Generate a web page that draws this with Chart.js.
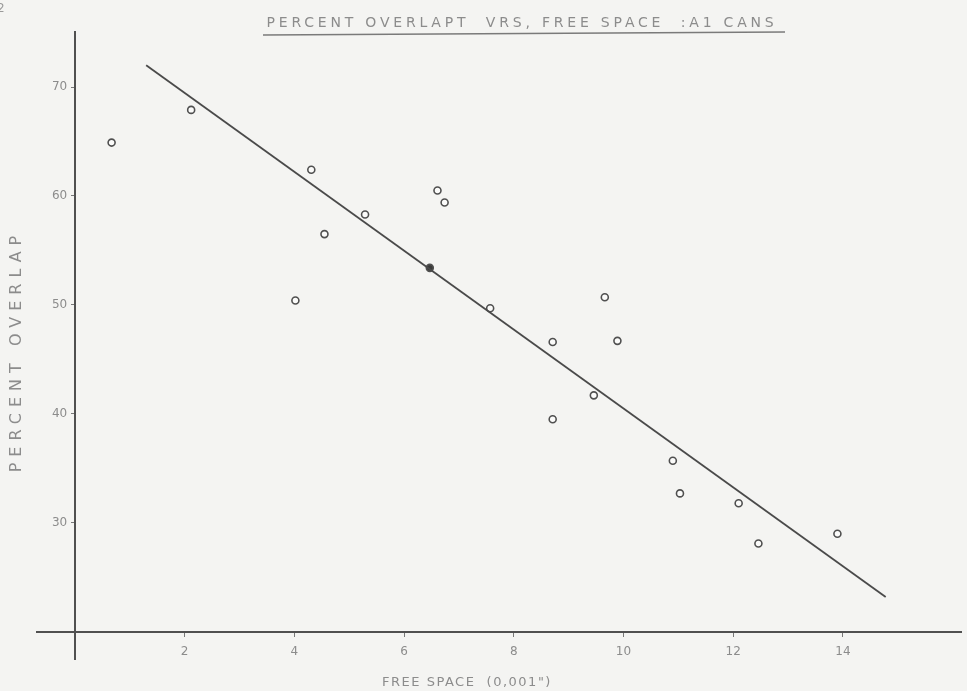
<!DOCTYPE html>
<html>
<head>
<meta charset="utf-8">
<script src="https://cdn.jsdelivr.net/npm/chart.js@4.4.1/dist/chart.umd.min.js"></script>
<style>
  html, body { margin: 0; padding: 0; background: #f4f4f2; }
  #wrap { width: 967px; height: 691px; position: relative; }
</style>
</head>
<body>
<div id="wrap"><canvas id="overlapChart"></canvas></div>
<script>
// measured points (free space in 0.001", percent overlap)
const freeSpace = [0.67, 2.12, 4.31, 4.55, 4.02, 5.29, 6.47, 6.61, 6.74, 7.57, 8.71, 8.71, 9.46, 9.66, 9.89, 10.9, 11.03, 12.1, 12.46, 13.9];
const overlap   = [64.9, 67.9, 62.4, 56.5, 50.4, 58.3, 53.4, 60.5, 59.4, 49.7, 46.6, 39.5, 41.7, 50.7, 46.7, 35.7, 32.7, 31.8, 28.1, 29.0];
const filledIndex = 6; // the one solid dot sitting on the line

// fitted line, end points
const fitX = [1.3, 14.78];
const fitY = [72.0, 23.2];

const xTicks = [2, 4, 6, 8, 10, 12, 14];
const yTicks = [30, 40, 50, 60, 70];

const chartTitle = 'PERCENT OVERLAPT  VRS, FREE SPACE  :A1 CANS';
const xTitle = 'FREE SPACE  (0,001")';
const yTitle = 'PERCENT OVERLAP';

const textColor = '#8c8c8c';
const inkColor = '#505050';

// paper background + hand lettered titles
const paperPlugin = {
    id: 'paper',
    beforeDraw(chart) {
        const ctx = chart.ctx;
        ctx.save();
        ctx.fillStyle = '#f4f4f2';
        ctx.fillRect(0, 0, chart.width, chart.height);
        ctx.restore();
    },
    afterDraw(chart) {
        const ctx = chart.ctx;
        ctx.save();
        ctx.fillStyle = textColor;
        ctx.textAlign = 'center';
        ctx.textBaseline = 'middle';

        // top title, underlined
        ctx.font = '14px "DejaVu Sans"';
        ctx.letterSpacing = '3.8px';
        ctx.fillText(chartTitle, 522, 23);
        ctx.strokeStyle = '#7a7a7a';
        ctx.lineWidth = 1.5;
        ctx.beginPath();
        ctx.moveTo(263, 35);
        ctx.lineTo(785, 32);
        ctx.stroke();

        // x axis title
        ctx.font = '13px "DejaVu Sans"';
        ctx.letterSpacing = '1.5px';
        ctx.fillText(xTitle, 467, 683);

        // y axis title
        ctx.translate(17, 354);
        ctx.rotate(-Math.PI / 2);
        ctx.font = '16px "DejaVu Sans"';
        ctx.letterSpacing = '6px';
        ctx.fillText(yTitle, 3, 0);
        ctx.restore();

        // stray page number in the corner
        ctx.save();
        ctx.fillStyle = '#9a9a9a';
        ctx.font = '12px "DejaVu Sans"';
        ctx.textBaseline = 'top';
        ctx.fillText('2', -3, 3);
        ctx.restore();
    }
};

const ctx = document.getElementById('overlapChart').getContext('2d');
new Chart(ctx, {
    data: {
        datasets: [
            {
                type: 'line',
                data: fitX.map((x, i) => ({ x: x, y: fitY[i] })),
                borderColor: '#4a4a4a',
                borderWidth: 1.8,
                pointRadius: 0,
                fill: false
            },
            {
                type: 'scatter',
                data: freeSpace.map((x, i) => ({ x: x, y: overlap[i] })),
                pointRadius: 3.5,
                pointBorderWidth: 1.6,
                borderColor: inkColor,
                backgroundColor: c => c.dataIndex === filledIndex ? '#3a3a3a' : 'rgba(255,255,255,0.6)'
            }
        ]
    },
    options: {
        responsive: true,
        maintainAspectRatio: false,
        animation: false,
        layout: {
            padding: { left: 37, right: -6, top: 32, bottom: 32 }
        },
        plugins: {
            legend: { display: false },
            tooltip: { enabled: false }
        },
        scales: {
            x: {
                type: 'linear',
                position: { y: 20 },
                min: -0.69,
                max: 16.16,
                afterBuildTicks: scale => { scale.ticks = xTicks.map(v => ({ value: v })); },
                grid: { drawOnChartArea: false, drawTicks: true, tickLength: 4, color: '#777' },
                border: { display: true, color: inkColor, width: 2 },
                ticks: {
                    color: textColor,
                    font: { family: 'DejaVu Sans', size: 12 },
                    padding: 9,
                    maxRotation: 0
                }
            },
            y: {
                type: 'linear',
                position: { x: 0 },
                min: 17.5,
                max: 75.05,
                afterBuildTicks: scale => { scale.ticks = yTicks.map(v => ({ value: v })); },
                grid: { drawOnChartArea: false, drawTicks: true, tickLength: 3, color: '#777' },
                border: { display: true, color: inkColor, width: 2 },
                ticks: {
                    color: textColor,
                    font: { family: 'DejaVu Sans', size: 12 },
                    padding: 6,
                    // centered axis ignores padding here, so nudge with trailing spaces
                    callback: v => v + '  '
                }
            }
        }
    },
    plugins: [paperPlugin]
});
</script>
</body>
</html>
